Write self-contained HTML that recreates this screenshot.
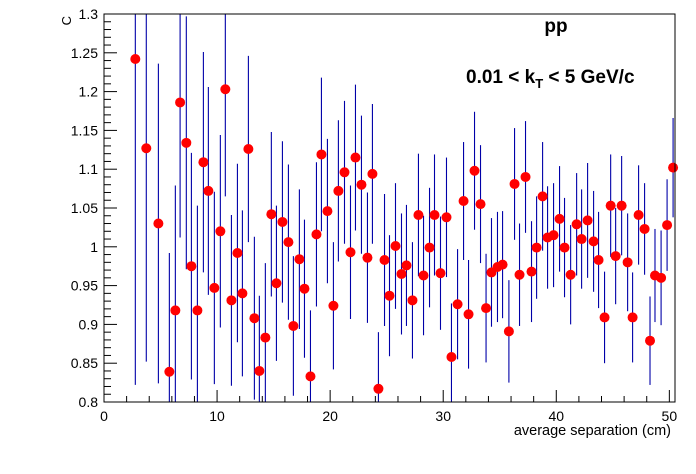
<!DOCTYPE html>
<html><head><meta charset="utf-8"><style>
html,body{margin:0;padding:0;background:#fff;}
svg{display:block;font-family:"Liberation Sans",Arial,sans-serif;}
</style></head><body>
<svg id="chart" width="696" height="474" viewBox="0 0 696 474" xmlns="http://www.w3.org/2000/svg">
<defs><clipPath id="plotclip"><rect x="104" y="14" width="571" height="388"/></clipPath></defs>
<rect x="0" y="0" width="696" height="474" fill="#fff"/>
<g id="axes"></g>
<g id="bars" clip-path="url(#plotclip)"></g>
<g id="marks"></g>
<rect x="104" y="14" width="571" height="388" fill="none" stroke="#000" stroke-width="1"/>
<text x="71" y="16" transform="rotate(-90 71 16)" text-anchor="end" font-size="13">C</text>
<text x="671" y="435" text-anchor="end" font-size="14.5">average separation (cm)</text>
<text x="556" y="32" text-anchor="middle" font-size="19" font-weight="bold">pp</text>
<text x="466" y="83" font-size="19" font-weight="bold">0.01 &lt; k<tspan font-size="13" dy="5">T</tspan><tspan dy="-5"> &lt; 5 GeV/c</tspan></text>
</svg>
<script>
const xValues=[2.77,3.74,4.81,5.78,6.31,6.73,7.28,7.73,8.26,8.79,9.23,9.76,10.29,10.73,11.27,11.8,12.24,12.77,13.3,13.74,14.27,14.8,15.25,15.78,16.31,16.75,17.28,17.73,18.26,18.79,19.23,19.76,20.29,20.73,21.27,21.8,22.24,22.77,23.3,23.74,24.27,24.81,25.25,25.78,26.31,26.75,27.28,27.81,28.26,28.79,29.23,29.76,30.29,30.73,31.27,31.8,32.24,32.77,33.3,33.79,34.27,34.8,35.25,35.81,36.31,36.75,37.28,37.81,38.26,38.79,39.23,39.76,40.29,40.73,41.27,41.8,42.24,42.77,43.3,43.74,44.27,44.81,45.25,45.78,46.31,46.75,47.28,47.81,48.29,48.73,49.27,49.8,50.33];
const cValues=[1.242,1.127,1.030,0.839,0.918,1.186,1.134,0.975,0.918,1.109,1.072,0.947,1.020,1.203,0.931,0.992,0.940,1.126,0.908,0.840,0.883,1.042,0.953,1.032,1.006,0.898,0.984,0.946,0.833,1.016,1.119,1.046,0.924,1.072,1.096,0.993,1.115,1.080,0.986,1.094,0.817,0.983,0.937,1.001,0.965,0.976,0.931,1.041,0.963,0.999,1.041,0.966,1.038,0.858,0.926,1.059,0.913,1.098,1.055,0.921,0.967,0.974,0.977,0.891,1.081,0.964,1.090,0.968,0.999,1.065,1.012,1.015,1.036,0.999,0.964,1.029,1.010,1.034,1.007,0.983,0.909,1.053,0.988,1.053,0.980,0.909,1.041,1.023,0.879,0.963,0.960,1.028,1.102];
const cErrors=[0.42,0.275,0.206,0.153,0.161,0.174,0.163,0.146,0.135,0.142,0.134,0.124,0.124,0.138,0.11,0.115,0.107,0.12,0.105,0.097,0.096,0.106,0.1,0.104,0.1,0.09,0.09,0.089,0.085,0.093,0.099,0.093,0.082,0.091,0.092,0.086,0.094,0.089,0.084,0.09,0.073,0.085,0.078,0.081,0.078,0.078,0.075,0.079,0.077,0.077,0.078,0.073,0.077,0.069,0.071,0.076,0.07,0.076,0.076,0.07,0.07,0.071,0.069,0.066,0.072,0.066,0.072,0.065,0.066,0.07,0.066,0.067,0.068,0.064,0.064,0.066,0.064,0.074,0.065,0.062,0.059,0.066,0.062,0.064,0.063,0.058,0.064,0.059,0.057,0.06,0.061,0.059,0.064];
const xTickLabels=["0","10","20","30","40","50"];
const yTickLabels=["0.8","0.85","0.9","0.95","1","1.05","1.1","1.15","1.2","1.25","1.3"];

const X0=104,X1=675,Y0=402,Y1=14,xMin=0,xMax=50.5,yMin=0.8,yMax=1.3;
const sx=v=>X0+(v-xMin)/(xMax-xMin)*(X1-X0);
const sy=v=>Y0-(v-yMin)/(yMax-yMin)*(Y0-Y1);
const NS="http://www.w3.org/2000/svg";
function mk(tag,attrs,parent){const e=document.createElementNS(NS,tag);for(const k in attrs)e.setAttribute(k,attrs[k]);parent.appendChild(e);return e;}
const axes=document.getElementById('axes'),marks=document.getElementById('marks'),bars=document.getElementById('bars');

for(let v=0;v<=xMax+1e-9;v+=2){
  const major=Math.abs(v%10)<1e-9;
  const t=mk('line',{x1:sx(v),x2:sx(v),y1:Y0,y2:Y0-(major?12:6),stroke:'#000','stroke-width':1},axes);
  
  
}
xTickLabels.forEach(s=>{
  const t=mk('text',{x:sx(parseFloat(s)),y:Y0+19,'text-anchor':'middle','font-size':14},axes);
  t.textContent=s;
  
  
});
for(let i=0;i<=50;i++){
  const v=yMin+i*0.01;const major=i%5===0;
  const t=mk('line',{x1:X0,x2:X0+(major?13:7),y1:sy(v),y2:sy(v),stroke:'#000','stroke-width':1},axes);
  
  
}
yTickLabels.forEach(s=>{
  const t=mk('text',{x:X0-6,y:sy(parseFloat(s))+5,'text-anchor':'end','font-size':14},axes);
  t.textContent=s;
  
  
});
xValues.forEach((x,i)=>{
  const y=cValues[i],e=cErrors[i];
  const b=mk('line',{x1:sx(x),x2:sx(x),y1:sy(y-e),y2:sy(y+e),stroke:'#0000a8','stroke-width':1.1},bars);
  
  
  const c=mk('circle',{cx:sx(x),cy:sy(y),r:5,fill:'#ff0000'},marks);
  
  
});
</script>
</body></html>
